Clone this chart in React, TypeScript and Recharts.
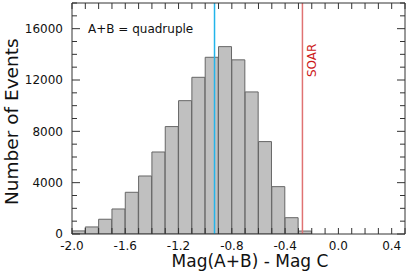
import React from "react";
import {
  ComposedChart,
  Bar,
  Line,
  XAxis,
  YAxis,
  ReferenceLine,
} from "recharts";

// histogram bins (lower edge, width 0.1) and counts
const binStarts = [
  -2.0, -1.9, -1.8, -1.7, -1.6, -1.5, -1.4, -1.3, -1.2, -1.1,
  -1.0, -0.9, -0.8, -0.7, -0.6, -0.5, -0.4, -0.3, -0.2, -0.1,
  0.0, 0.1, 0.2, 0.3, 0.4,
];
const binCounts = [
  240, 550, 1150, 1950, 3250, 4520, 6390, 8370, 10390, 12210,
  13770, 14600, 13570, 11070, 7200, 3690, 1270, 230, 0, 0,
  0, 0, 0, 0, 0,
];
const binWidth = 0.1;

const xTicks = [
  -2.0, -1.9, -1.8, -1.7, -1.6, -1.5, -1.4, -1.3, -1.2, -1.1, -1.0, -0.9, -0.8,
  -0.7, -0.6, -0.5, -0.4, -0.3, -0.2, -0.1, 0.0, 0.1, 0.2, 0.3, 0.4, 0.5,
];
const xLabelTicks = [-2.0, -1.6, -1.2, -0.8, -0.4, 0.0, 0.4];
const yTicks = [
  0, 1000, 2000, 3000, 4000, 5000, 6000, 7000, 8000, 9000, 10000, 11000, 12000,
  13000, 14000, 15000, 16000, 17000, 18000,
];
const yLabelTicks = [0, 4000, 8000, 12000, 16000];

const quadrupleMag = -0.93;
const soarMag = -0.27;

const data = binStarts.map((start, i) => ({
  mid: start + binWidth / 2,
  count: binCounts[i],
}));

const FONT = "DejaVu Sans";
const FRAME = "#333333";
const TEXT = "#111111";

const isXLabel = (v: number) => xLabelTicks.some((t) => Math.abs(t - v) < 1e-6);
const isYLabel = (v: number) => yLabelTicks.includes(v);

function BottomTick({ x, y, payload }: any) {
  return (
    <g>
      <line x1={x} y1={y} x2={x} y2={y - 6} stroke={FRAME} />
      {isXLabel(payload.value) && (
        <text x={x} y={y + 16} textAnchor="middle" fontFamily={FONT} fontSize={12} fill={TEXT}>
          {Number(payload.value).toFixed(1)}
        </text>
      )}
    </g>
  );
}

function TopTick({ x, y }: any) {
  return <line x1={x} y1={y} x2={x} y2={y + 6} stroke={FRAME} />;
}

function LeftTick({ x, y, payload }: any) {
  const major = isYLabel(payload.value);
  return (
    <g>
      <line x1={x} y1={y} x2={x + (major ? 8 : 5)} y2={y} stroke={FRAME} />
      {major && (
        <text x={x - 9} y={y + 4.4} textAnchor="end" fontFamily={FONT} fontSize={12} fill={TEXT}>
          {payload.value}
        </text>
      )}
    </g>
  );
}

function RightTick({ x, y, payload }: any) {
  const major = isYLabel(payload.value);
  return <line x1={x} y1={y} x2={x - (major ? 8 : 5)} y2={y} stroke={FRAME} />;
}

function SoarLabel({ viewBox }: any) {
  if (!viewBox) return null;
  return (
    <text
      transform={`translate(${viewBox.x + 13.5}, ${viewBox.y + 57.3}) rotate(-90)`}
      textAnchor="middle"
      fontFamily={FONT}
      fontSize={12}
      fill="#cc1a1a"
    >
      SOAR
    </text>
  );
}

export default function App() {
  return (
    <div style={{ position: "absolute", left: 0, top: 0, background: "#fff" }}>
      <ComposedChart
        width={407}
        height={275}
        data={data}
        barCategoryGap={0}
        margin={{ top: 2, right: 1, left: 0, bottom: 0 }}
      >
        <XAxis
          xAxisId="num"
          dataKey="mid"
          type="number"
          domain={[-2.0, 0.5]}
          allowDataOverflow
          ticks={xTicks}
          interval={0}
          height={41}
          tickSize={0}
          tickMargin={0}
          tickLine={false}
          tick={<BottomTick />}
          axisLine={{ stroke: FRAME }}
        />
        <XAxis
          xAxisId="top"
          dataKey="mid"
          orientation="top"
          type="number"
          domain={[-2.0, 0.5]}
          allowDataOverflow
          ticks={xTicks}
          interval={0}
          height={1}
          tickSize={0}
          tickMargin={0}
          tickLine={false}
          tick={<TopTick />}
          axisLine={{ stroke: FRAME }}
        />
        <YAxis
          yAxisId="left"
          domain={[0, 18000]}
          allowDataOverflow
          ticks={yTicks}
          interval={0}
          width={72}
          tickSize={0}
          tickMargin={0}
          tickLine={false}
          tick={<LeftTick />}
          axisLine={{ stroke: FRAME }}
        />
        <YAxis
          yAxisId="right"
          orientation="right"
          domain={[0, 18000]}
          allowDataOverflow
          ticks={yTicks}
          interval={0}
          width={1}
          tickSize={0}
          tickMargin={0}
          tickLine={false}
          tick={<RightTick />}
          axisLine={{ stroke: FRAME }}
        />
        <Bar
          xAxisId="num"
          yAxisId="left"
          dataKey="count"
          fill="#c0c0c0"
          stroke="#666666"
          strokeWidth={1}
          isAnimationActive={false}
        />
        {/* invisible series so the top and right frame axes get a scale */}
        <Line
          xAxisId="top"
          yAxisId="right"
          dataKey="count"
          stroke="none"
          dot={false}
          activeDot={false}
          isAnimationActive={false}
        />
        <ReferenceLine
          xAxisId="num"
          yAxisId="left"
          x={quadrupleMag}
          stroke="#22b4ea"
          strokeWidth={1.5}
        />
        <ReferenceLine
          xAxisId="num"
          yAxisId="left"
          x={soarMag}
          stroke="#e07272"
          strokeWidth={1.5}
          label={<SoarLabel />}
        />
        <text x={88} y={32.5} fontFamily={FONT} fontSize={12} fill={TEXT}>
          A+B = quadruple
        </text>
        <text
          transform="translate(18.3, 121.7) rotate(-90)"
          textAnchor="middle"
          fontFamily={FONT}
          fontSize={18.5}
          fill={TEXT}
        >
          Number of Events
        </text>
        <text x={250} y={267} textAnchor="middle" fontFamily={FONT} fontSize={17} fill={TEXT}>
          Mag(A+B) - Mag C
        </text>
      </ComposedChart>
    </div>
  );
}
